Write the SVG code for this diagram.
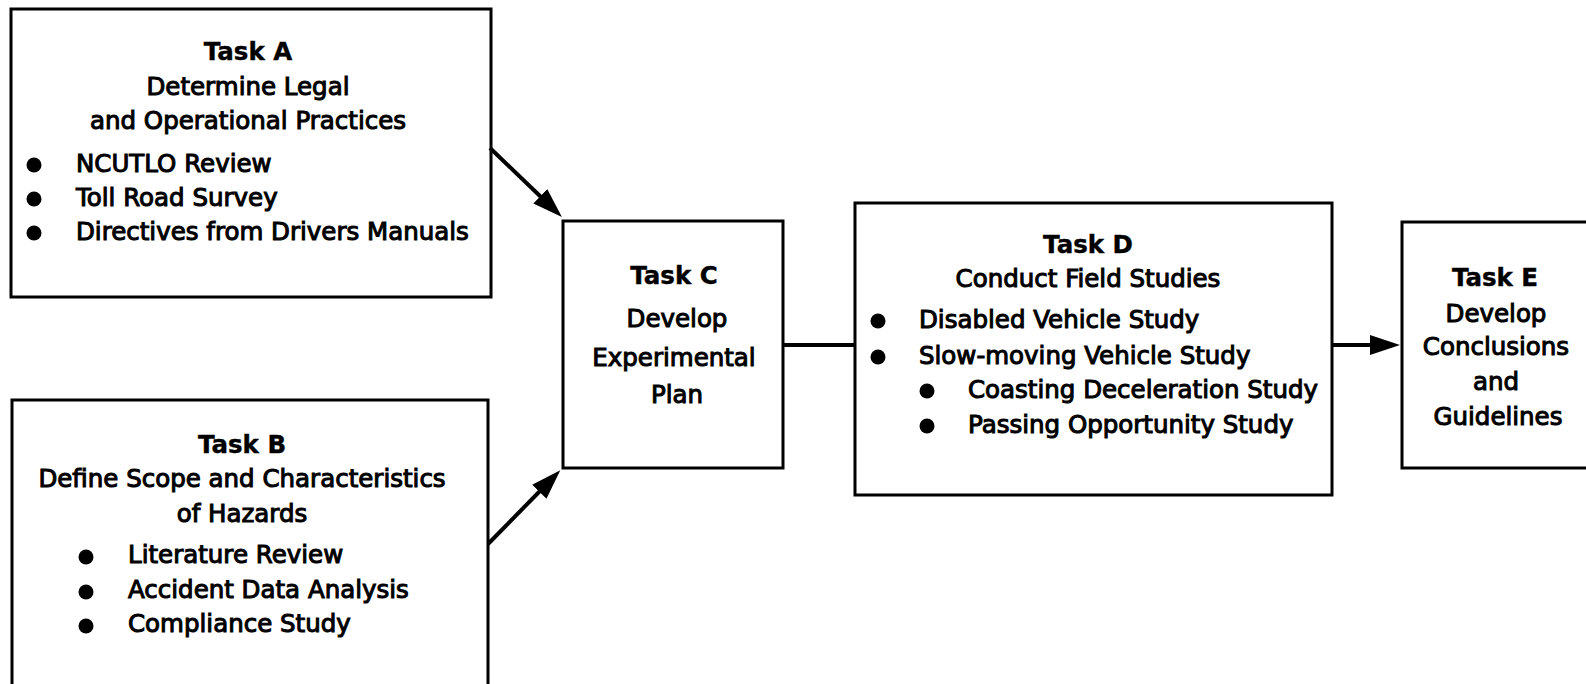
<svg xmlns="http://www.w3.org/2000/svg" width="1586" height="684" viewBox="0 0 1586 684">
  <style>
    .box { fill: #ffffff; stroke: #000000; stroke-width: 3; }
    .t { font-family: "DejaVu Sans", "Liberation Sans", sans-serif; font-size: 24.5px; fill: #000000; stroke: #000000; stroke-width: 1.05; }
    .title { font-weight: bold; font-size: 24.5px; stroke-width: 0.4; }
    .c { text-anchor: middle; }
    .dot { fill: #000000; }
    .conn { stroke: #000000; stroke-width: 4; fill: none; }
  </style>
  <defs>
    <marker id="arrow" markerUnits="userSpaceOnUse" markerWidth="30" markerHeight="22" viewBox="0 0 30 22" refX="1" refY="11" orient="auto">
      <path d="M0,1 L30,11 L0,21 z" fill="#000000"/>
    </marker>
  </defs>
  <rect width="1586" height="684" fill="#ffffff"/>

  <g id="taskA">
    <rect class="box" x="11" y="9" width="480" height="288"/>
    <text class="t title c" x="248" y="60">Task A</text>
    <text class="t c" x="248" y="95">Determine Legal</text>
    <text class="t c" x="248" y="129">and Operational Practices</text>
    <circle class="dot" cx="34" cy="165" r="7.5"/>
    <text class="t" x="76" y="172">NCUTLO Review</text>
    <circle class="dot" cx="34" cy="199" r="7.5"/>
    <text class="t" x="76" y="206">Toll Road Survey</text>
    <circle class="dot" cx="34" cy="233" r="7.5"/>
    <text class="t" x="76" y="240">Directives from Drivers Manuals</text>
  </g>

  <g id="taskB">
    <rect class="box" x="12" y="400" width="476" height="320"/>
    <text class="t title c" x="242" y="453">Task B</text>
    <text class="t c" x="242" y="487">Define Scope and Characteristics</text>
    <text class="t c" x="242" y="522">of Hazards</text>
    <circle class="dot" cx="86" cy="557" r="7.5"/>
    <text class="t" x="128" y="563">Literature Review</text>
    <circle class="dot" cx="86" cy="592" r="7.5"/>
    <text class="t" x="128" y="598">Accident Data Analysis</text>
    <circle class="dot" cx="86" cy="626" r="7.5"/>
    <text class="t" x="128" y="632">Compliance Study</text>
  </g>

  <g id="taskC">
    <rect class="box" x="563" y="221" width="220" height="247"/>
    <text class="t title c" x="674" y="284">Task C</text>
    <text class="t c" x="677" y="327">Develop</text>
    <text class="t c" x="674" y="366">Experimental</text>
    <text class="t c" x="677" y="403">Plan</text>
  </g>

  <g id="taskD">
    <rect class="box" x="855" y="203" width="477" height="292"/>
    <text class="t title c" x="1088" y="253">Task D</text>
    <text class="t c" x="1088" y="287">Conduct Field Studies</text>
    <circle class="dot" cx="878" cy="321" r="7.5"/>
    <text class="t" x="919" y="328">Disabled Vehicle Study</text>
    <circle class="dot" cx="878" cy="357" r="7.5"/>
    <text class="t" x="919" y="364">Slow-moving Vehicle Study</text>
    <circle class="dot" cx="927" cy="391" r="7.5"/>
    <text class="t" x="968" y="398">Coasting Deceleration Study</text>
    <circle class="dot" cx="927" cy="426" r="7.5"/>
    <text class="t" x="968" y="433">Passing Opportunity Study</text>
  </g>

  <g id="taskE">
    <rect class="box" x="1402" y="222" width="220" height="246"/>
    <text class="t title c" x="1495" y="286">Task E</text>
    <text class="t c" x="1496" y="322">Develop</text>
    <text class="t c" x="1496" y="355">Conclusions</text>
    <text class="t c" x="1496" y="390">and</text>
    <text class="t c" x="1498" y="425">Guidelines</text>
  </g>

  <g id="connectors">
    <line class="conn" x1="490" y1="148" x2="541" y2="197" marker-end="url(#arrow)"/>
    <line class="conn" x1="488" y1="544" x2="540" y2="491" marker-end="url(#arrow)"/>
    <line class="conn" x1="783" y1="345" x2="855" y2="345"/>
    <line class="conn" x1="1332" y1="345" x2="1371" y2="345" marker-end="url(#arrow)"/>
  </g>
</svg>
